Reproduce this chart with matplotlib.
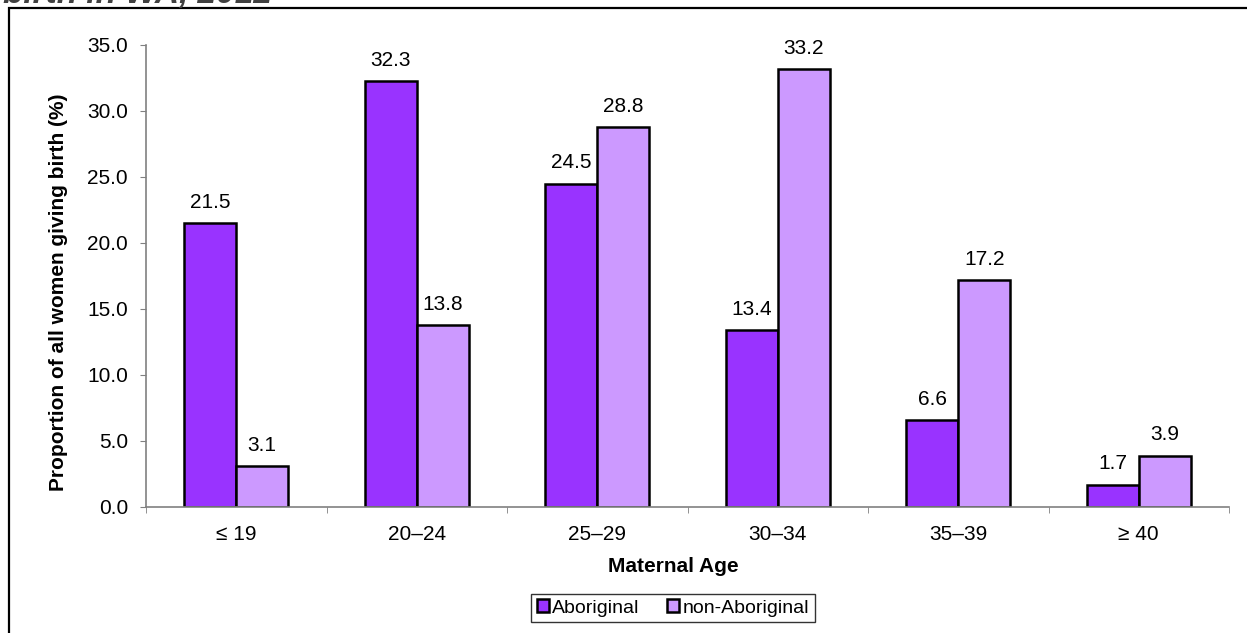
import numpy as np
import matplotlib
matplotlib.use("Agg")
import matplotlib.pyplot as plt
from matplotlib.patches import Rectangle

ages = ["\u2264 19", "20\u201324", "25\u201329", "30\u201334", "35\u201339", "\u2265 40"]
aboriginal = [21.5, 32.3, 24.5, 13.4, 6.6, 1.7]
non_aboriginal = [3.1, 13.8, 28.8, 33.2, 17.2, 3.9]

plt.rcParams['font.family'] = ['Liberation Sans', 'DejaVu Sans']

W, H = 1247, 633
fig = plt.figure(figsize=(W / 100, H / 100), dpi=100)

# outer frame of the original document, cut off at right and bottom
fig.patches.append(Rectangle((9 / W, -0.2), 1.2, 1.2 - 8 / H, transform=fig.transFigure,
                             fill=False, edgecolor='black', linewidth=1.6))
# cut-off title line above the frame
fig.text(3 / W, 1 - 2.5 / H, "birth in WA, 2012", fontsize=24, fontweight='bold',
         fontstyle='italic', color='#404040', ha='left', va='baseline')

ax = fig.add_axes([146 / W, 1 - 507 / H, (1229 - 146) / W, (507 - 45) / H])
x = np.arange(len(ages))
bw = 0.288
b1 = ax.bar(x - bw / 2, aboriginal, bw, color='#9933FF', edgecolor='black', linewidth=1.8,
            label='Aboriginal')
b2 = ax.bar(x + bw / 2, non_aboriginal, bw, color='#CC99FF', edgecolor='black', linewidth=1.8,
            label='non-Aboriginal')
for bars in (b1, b2):
    for r in bars:
        ax.annotate(f"{r.get_height():.1f}", (r.get_x() + r.get_width() / 2, r.get_height()),
                    xytext=(0, 8), textcoords='offset points', ha='center', va='bottom',
                    fontsize=15)

ax.set_xlim(-0.5, len(ages) - 0.5)
ax.set_ylim(0, 35)
ax.set_yticks(np.arange(0, 35.1, 5))
ax.set_yticklabels([f"{v:.1f}" for v in np.arange(0, 35.1, 5)])
ax.set_xticks(x)
ax.set_xticklabels(ages)
ax.set_xticks(np.arange(-0.5, len(ages), 1), minor=True)
ax.tick_params(axis='x', which='major', length=0, labelsize=15, pad=13)
ax.tick_params(axis='x', which='minor', length=4.5, color='#808080', direction='out')
ax.tick_params(axis='y', length=4, color='#808080', labelsize=15, pad=9)
for s in ('top', 'right'):
    ax.spines[s].set_visible(False)
for s in ('left', 'bottom'):
    ax.spines[s].set_color('#808080')
    ax.spines[s].set_linewidth(1.2)

ax.set_xlabel("Maternal Age", fontsize=15, fontweight='bold', va='top')
ax.xaxis.set_label_coords((673 - 146) / 1083, -0.108)
ax.set_ylabel("Proportion of all women giving birth (%)", fontsize=15, fontweight='bold')
ax.yaxis.set_label_coords(-0.072, 0.465)

leg = fig.legend(handles=[b1, b2], loc='center', bbox_to_anchor=(673 / W, 1 - 608 / H),
                 ncol=2, fontsize=14, frameon=True, fancybox=False, edgecolor='black',
                 handlelength=0.6, handleheight=0.6, handletextpad=0.2, columnspacing=1.4,
                 borderpad=0.3, borderaxespad=0.0)
leg.get_frame().set_linewidth(1.0)

fig.savefig("out.png", dpi=100)
